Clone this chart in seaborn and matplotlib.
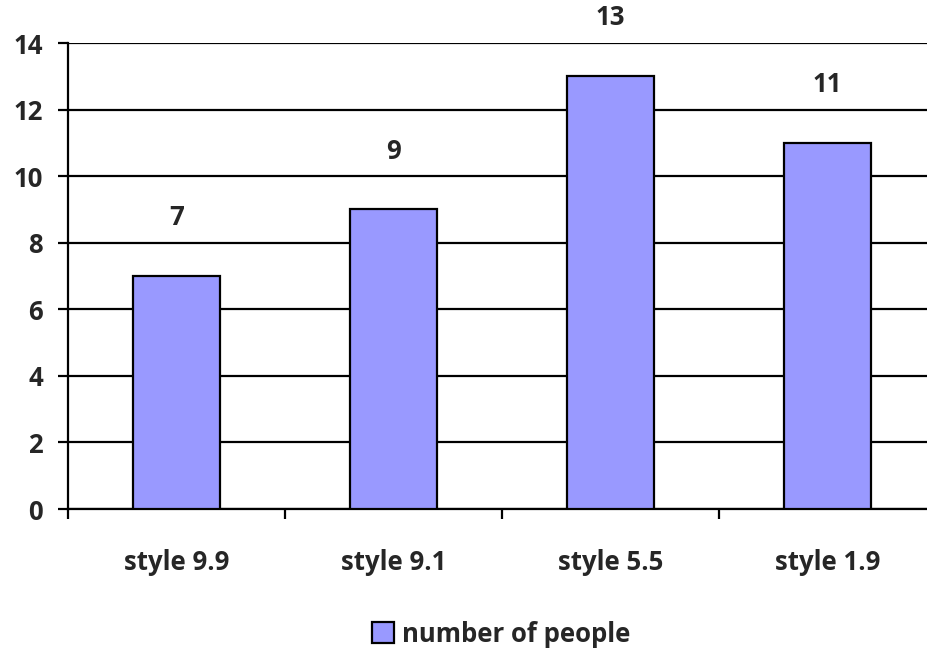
import matplotlib
matplotlib.use("Agg")
import matplotlib.pyplot as plt
import seaborn as sns
import pandas as pd
from matplotlib.patches import Patch

categories = ["style 9.9", "style 9.1", "style 5.5", "style 1.9"]
values = [7, 9, 13, 11]
series_name = "number of people"
yticks = [0, 2, 4, 6, 8, 10, 12, 14]

sns.set_theme(style="white")
plt.rcParams['font.family'] = ['Open Sans', 'DejaVu Sans']
plt.rcParams['font.weight'] = 'bold'

FS = 18.5

df = pd.DataFrame({"cat": categories, "val": values})

fig = plt.figure(figsize=(9.28, 6.5), dpi=100)
ax = fig.add_axes([68/928, 141/650, 868/928, 466/650])

sns.barplot(data=df, x="cat", y="val", color="#9999FF", edgecolor="black",
            linewidth=1.6, width=0.4, saturation=1, ax=ax, zorder=3)

ax.set_ylim(0, 14)
ax.set_xlim(-0.5, len(categories) - 0.5)
ax.set_yticks(yticks)
ax.yaxis.grid(True, color="black", linewidth=1.6, zorder=0)
ax.set_axisbelow(True)
for s in ["top", "right"]:
    ax.spines[s].set_visible(False)
for s in ["left", "bottom"]:
    ax.spines[s].set_color("black")
    ax.spines[s].set_linewidth(1.6)

ax.set_xlabel("")
ax.set_ylabel("")
ax.set_xticks([i - 0.5 for i in range(len(categories) + 1)], minor=False)
ax.set_xticklabels([])
ax.set_xticks(range(len(categories)), minor=True)
ax.set_xticklabels(categories, minor=True, fontsize=FS, fontweight="bold")
ax.tick_params(axis="x", which="major", direction="out", length=7, width=1.6, color="black", bottom=True)
ax.tick_params(axis="x", which="minor", length=0, pad=29)
ax.tick_params(axis="y", direction="out", length=7, width=1.6, color="black", left=True, pad=11,
               labelsize=FS)
for lab in ax.get_yticklabels():
    lab.set_fontweight("bold")

for i, v in enumerate(values):
    ax.annotate(str(v), (i, v), xytext=(0, 42), textcoords="offset points",
                ha="center", va="center", fontsize=FS, fontweight="bold")

handle = Patch(facecolor="#9999FF", edgecolor="black", linewidth=1.6)
fig.legend([handle], [series_name], loc="center", bbox_to_anchor=(501/928, 1 - 634/650),
           frameon=False, prop={"weight": "bold", "size": FS},
           handlelength=0.85, handleheight=0.85, handletextpad=0.3)

fig.savefig("out.png", dpi=100)
